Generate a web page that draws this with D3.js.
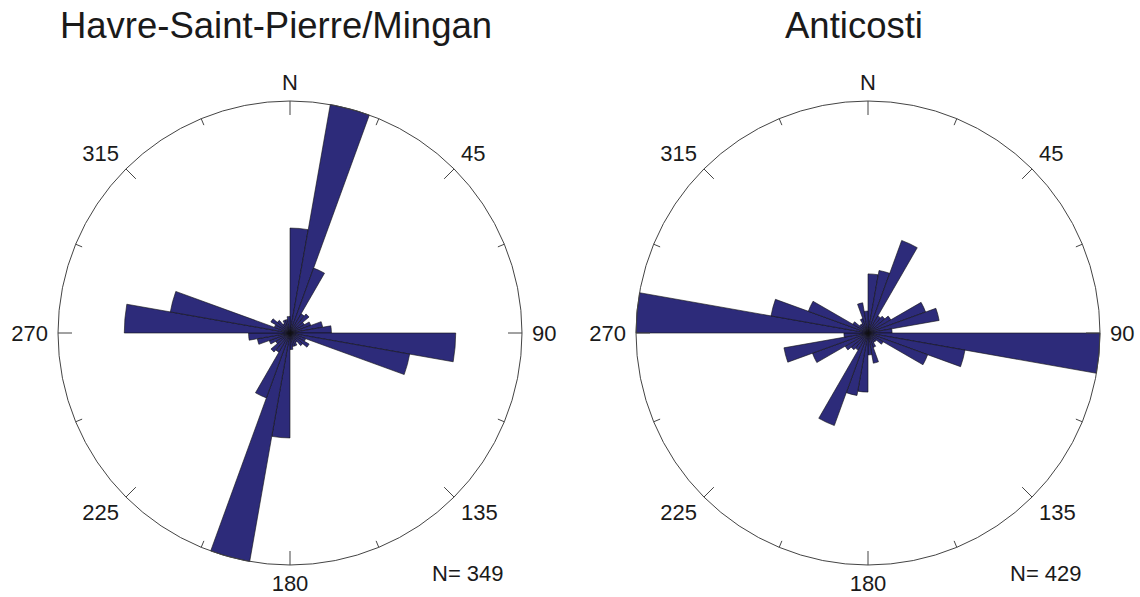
<!DOCTYPE html>
<html>
<head>
<meta charset="utf-8">
<script src="https://cdn.jsdelivr.net/npm/d3@7"></script>
<style>
  html, body { margin: 0; padding: 0; background: #ffffff; }
  svg { display: block; }
  text { font-family: "Liberation Sans", Arial, sans-serif; fill: #1a1a1a; }
</style>
</head>
<body>
<svg id="chart" width="1140" height="597"></svg>
<script>
// Bin start angles (degrees clockwise from North, 10° bins over the full circle)
const binStarts = d3.range(0, 360, 10);
// Counts per bin, Havre-Saint-Pierre/Mingan (N = 349)
const countsHavre = [38, 84, 25, 8, 9, 6, 8, 12, 15, 60, 44, 6, 8, 6, 4, 5, 5, 6,
                     38, 84, 25, 8, 9, 6, 8, 12, 15, 60, 44, 6, 8, 6, 4, 5, 5, 6];
// Counts per bin, Anticosti (N = 429)
const countsAnticosti = [27, 29, 45, 9, 10, 12, 28, 33, 11, 106, 45, 29, 8, 5, 5, 7, 14, 10,
                         27, 29, 45, 9, 10, 12, 27, 39, 11, 106, 45, 29, 8, 5, 5, 7, 14, 10];
const titles = ["Havre-Saint-Pierre/Mingan", "Anticosti"];
const totals = [349, 429];
const compassTicks = [0, 45, 90, 135, 180, 225, 270, 315];
const compassLabels = ["N", "45", "90", "135", "180", "225", "270", "315"];
const minorTicks = [22.5, 67.5, 112.5, 157.5, 202.5, 247.5, 292.5, 337.5];

const svg = d3.select("#chart");
const R = 232;
const panels = [
  { cx: 290, cy: 333, titleX: 276, counts: countsHavre },
  { cx: 868, cy: 333, titleX: 854, counts: countsAnticosti }
];
const binWidth = 10;
const rad = d => d * Math.PI / 180;

panels.forEach((p, i) => {
  const g = svg.append("g").attr("transform", `translate(${p.cx},${p.cy})`);
  const r = d3.scaleLinear().domain([0, d3.max(p.counts)]).range([0, R]);

  const bins = binStarts.map((a, k) => ({ start: a, count: p.counts[k] }));
  const arc = d3.arc()
    .innerRadius(0)
    .outerRadius(d => r(d.count))
    .startAngle(d => rad(d.start))
    .endAngle(d => rad(d.start + binWidth));
  g.selectAll("path.bin").data(bins).enter().append("path")
    .attr("class", "bin")
    .attr("d", arc)
    .attr("fill", "#2d2b7a")
    .attr("stroke", "#111111")
    .attr("stroke-width", 0.6)
    .attr("stroke-linejoin", "miter");

  // outer circle
  g.append("circle").attr("r", R).attr("fill", "none")
    .attr("stroke", "#444").attr("stroke-width", 1);

  // ticks
  const tick = (deg, len) => {
    const s = Math.sin(rad(deg)), c = -Math.cos(rad(deg));
    g.append("line")
      .attr("x1", s * R).attr("y1", c * R)
      .attr("x2", s * (R - len)).attr("y2", c * (R - len))
      .attr("stroke", "#444").attr("stroke-width", 1);
  };
  compassTicks.forEach(d => tick(d, 14));
  minorTicks.forEach(d => tick(d, 7));

  // labels
  compassTicks.forEach((d, k) => {
    const s = Math.sin(rad(d)), c = Math.cos(rad(d));
    const lr = 242;
    const anchor = Math.abs(s) < 1e-6 ? "middle" : (s > 0 ? "start" : "end");
    let dy;
    if (Math.abs(c) < 1e-6) dy = "0.36em";
    else if (c > 0) dy = "-0.05em";
    else dy = "0.72em";
    g.append("text")
      .attr("x", s * lr).attr("y", -c * lr)
      .attr("dy", dy)
      .attr("text-anchor", anchor)
      .attr("font-size", 22)
      .text(compassLabels[k]);
  });

  // N = count
  g.append("text")
    .attr("x", 142).attr("y", 248)
    .attr("font-size", 22)
    .text("N= " + totals[i]);

  // title
  svg.append("text")
    .attr("x", p.titleX).attr("y", 38)
    .attr("text-anchor", "middle")
    .attr("font-size", 36.5)
    .text(titles[i]);
});
</script>
</body>
</html>
